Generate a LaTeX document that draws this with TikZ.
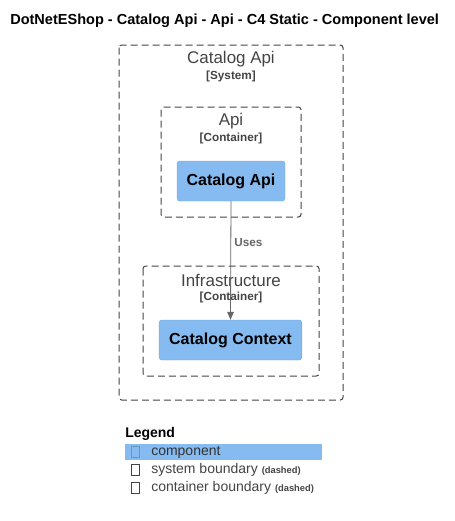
\documentclass[tikz,border=0pt]{standalone}
\usepackage{fontspec}
\setmainfont{Liberation Sans}
\usepackage{xcolor}
\usetikzlibrary{arrows.meta,positioning}

\definecolor{compfill}{HTML}{85BBF0}
\definecolor{bndgray}{HTML}{444444}
\definecolor{relgray}{HTML}{666666}

\begin{document}
\begin{tikzpicture}[x=0.75pt,y=-0.75pt,
  boundary/.style={draw=bndgray,line width=0.75pt,dash pattern=on 5.25pt off 3pt,rounded corners=2pt},
  bndtitle/.style={text=bndgray,font=\fontsize{12.7}{14}\selectfont},
  bndtype/.style={text=bndgray,font=\bfseries\fontsize{8.8}{10}\selectfont},
  component/.style={fill=compfill,draw=compfill!90!black,line width=0.3pt,rounded corners=2pt,
    font=\bfseries\fontsize{12}{13}\selectfont,inner sep=0pt},
  tofu/.style={draw=bndgray,line width=0.4pt,minimum width=6pt,minimum height=8pt,inner sep=0pt}]
  \useasboundingbox (0,0) rectangle (454,521);
  \node[anchor=west,inner sep=0pt,font=\bfseries\fontsize{10.9}{12}\selectfont] (title) at (10,21)
    {DotNetEShop - Catalog Api - Api - C4 Static - Component level};
  % system boundary
  \draw[boundary] (119,45) rectangle (343,400);
  \node[bndtitle] (systitle) at (231,59) {Catalog Api};
  \node[bndtype] (systype) at (231,76) {[System]};
  % containers
  \draw[boundary] (161,107) rectangle (301,217);
  \node[bndtitle] (apititle) at (231,121) {Api};
  \node[bndtype] (apitype) at (231,138) {[Container]};
  \draw[boundary] (143,266) rectangle (319,376);
  \node[bndtitle] (infratitle) at (231,280) {Infrastructure};
  \node[bndtype] (infratype) at (231,297) {[Container]};
  % components
  \node[component,minimum width=81pt,minimum height=30pt] (capi) at (231,181) {Catalog Api};
  \node[component,minimum width=107pt,minimum height=30pt] (cctx) at (230.5,340) {Catalog Context};
  \draw[relgray,line width=0.6pt,-{Triangle[width=5pt,length=6pt]}] (capi.south) -- (cctx.north)
    node[pos=0.345,right=-1pt,font=\bfseries\fontsize{8.8}{10}\selectfont,text=relgray] (uses) {Uses};
  % legend
  \node[anchor=west,inner sep=0pt,font=\bfseries\fontsize{10.5}{12}\selectfont] (legend) at (125,434) {Legend};
  \fill[compfill] (125,444) rectangle (322,460);
  \node[tofu,draw=compfill!80!black] (tofu1) at (135,452) {};
  \node[anchor=west,inner sep=0pt,font=\fontsize{10.5}{12}\selectfont,text=black!80] (lcomp) at (151,452) {component};
  \node[tofu] (tofu2) at (135,470) {};
  \node[anchor=west,inner sep=0pt,font=\fontsize{10.5}{12}\selectfont,text=bndgray] (lsys) at (151,470)
    {system boundary {\bfseries\fontsize{7}{8}\selectfont(dashed)}};
  \node[tofu] (tofu3) at (135,488) {};
  \node[anchor=west,inner sep=0pt,font=\fontsize{10.5}{12}\selectfont,text=bndgray] (lcont) at (151,488)
    {container boundary {\bfseries\fontsize{7}{8}\selectfont(dashed)}};
\end{tikzpicture}
\end{document}
